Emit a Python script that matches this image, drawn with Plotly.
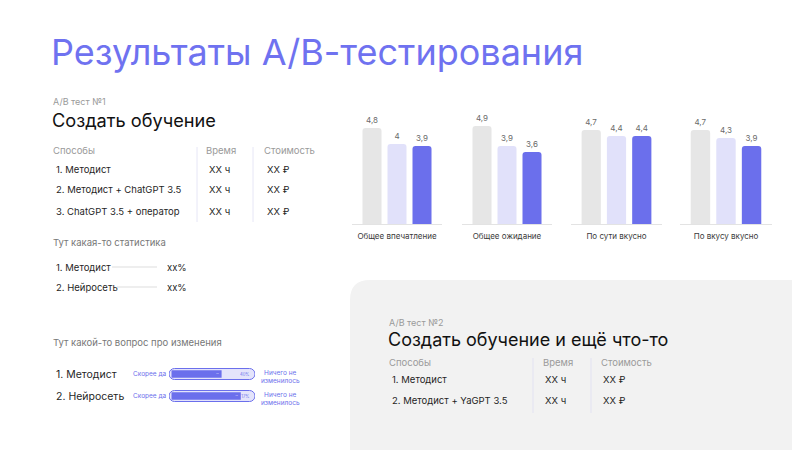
import plotly.graph_objects as go

# ---------------- data ----------------
categories = ["Общее впечатление", "Общее ожидание", "По сути вкусно", "По вкусу вкусно"]
series_names = ["Методист", "Методист + ChatGPT 3.5", "ChatGPT 3.5 + оператор"]
scores_methodist = [4.8, 4.9, 4.7, 4.7]
scores_methodist_gpt = [4, 3.9, 4.4, 4.3]
scores_gpt_operator = [3.9, 3.6, 4.4, 3.9]

change_rows = ["1. Методист", "2. Нейросеть"]
change_yes = [60, 83]
change_no = [40, 17]

W, H = 800, 450
OX, OY = 8, 8  # page body margin
FONT = "Inter, Roboto, sans-serif"
BLUE = "#6b6fec"
LIGHT = "#e1e1fa"
GRAY_BAR = "#e6e6e6"
TXT = "#1f1f1f"
MUTED = "#9a9a9a"


def px(x):
    return (x - OX) / W


def py(y):
    return 1 - (y - OY) / H


def fmt(v):
    return str(v).replace(".", ",")


fig = go.Figure()
layout = dict(
    width=W, height=H, margin=dict(l=0, r=0, t=0, b=0),
    paper_bgcolor="white", plot_bgcolor="white",
    showlegend=False, barmode="overlay",
    font=dict(family=FONT, color=TXT),
)

# --------- grouped score bars (one small axis per category) ---------
domains = [(352, 442), (462, 552), (571, 662), (680, 772)]
series = [scores_methodist, scores_methodist_gpt, scores_gpt_operator]
colors = [GRAY_BAR, LIGHT, BLUE]
for i, cat in enumerate(categories):
    sx = "" if i == 0 else str(i + 1)
    vals = [s[i] for s in series]
    fig.add_trace(go.Bar(
        x=[0, 1, 2], y=vals, xaxis="x" + sx, yaxis="y" + sx,
        width=0.76, marker=dict(color=colors, line=dict(width=0), cornerradius=3),
        text=[fmt(v) for v in vals], textposition="outside",
        textfont=dict(size=8, color="#6a6a6a", family=FONT),
        cliponaxis=False, hoverinfo="skip",
    ))
    d0, d1 = domains[i]
    layout["xaxis" + sx] = dict(
        domain=[px(d0), px(d1)], range=[-0.8, 2.8], anchor="y" + sx,
        showgrid=False, zeroline=False, showline=True, linecolor="#e3e3e3",
        linewidth=1, ticks="", tickvals=[1], ticktext=[cat], ticklabelstandoff=4,
        tickfont=dict(size=8, color="#3a3a3a", family=FONT), fixedrange=True,
    )
    layout["yaxis" + sx] = dict(
        domain=[py(224), py(104)], range=[0, 6], anchor="x" + sx,
        visible=False, fixedrange=True,
    )

# --------- progress bars (changes question) ---------
fig.add_trace(go.Bar(
    y=[0, 1], x=[103, 103], base=[-3, -3], orientation="h",
    xaxis="x5", yaxis="y5", width=0.5,
    marker=dict(color="#e4e4fb", line=dict(color=BLUE, width=1), cornerradius=6),
    text=[f"{v}%" for v in change_no], textposition="inside", insidetextanchor="end",
    textfont=dict(size=5, color=BLUE, family=FONT), hoverinfo="skip",
))
fig.add_trace(go.Bar(
    y=[0, 1], x=change_yes, orientation="h",
    xaxis="x5", yaxis="y5", width=0.33,
    marker=dict(color=BLUE, line=dict(width=0), cornerradius=4),
    text=[f"{v}%" for v in change_yes], textposition="inside", insidetextanchor="end",
    textfont=dict(size=5, color="white", family=FONT), hoverinfo="skip",
))
layout["xaxis5"] = dict(domain=[px(169), px(255)], range=[-3, 100], anchor="y5",
                        visible=False, fixedrange=True)
layout["yaxis5"] = dict(domain=[py(407), py(363)], range=[1.5, -0.5], anchor="x5",
                        visible=False, fixedrange=True)

# ---------------- text ----------------
ann = []


def A(text, x, y, size, color=TXT, anchor="left"):
    ann.append(dict(text=text, x=px(x), y=py(y), xref="paper", yref="paper",
                    xanchor=anchor, yanchor="middle", showarrow=False,
                    font=dict(size=size, color=color, family=FONT)))


A("Результаты А/В-тестирования", 49, 52, 36, "#6f72f0")

# test 1
A("А/В тест №1", 51, 101, 9, MUTED)
A("Создать обучение", 50, 120, 18.2, "#111")
A("Способы", 51, 151, 9.5, MUTED)
A("Время", 204, 151, 9.5, MUTED)
A("Стоимость", 262, 151, 9.5, MUTED)
rows1 = ["1. Методист", "2. Методист + ChatGPT 3.5", "3. ChatGPT 3.5 + оператор"]
for r, yy in zip(rows1, [169, 189, 211]):
    A(r, 54, yy, 9.5)
    A("XX ч", 207, yy, 9.5)
    A("XX ₽", 265, yy, 9.5)

A("Тут какая-то статистика", 51, 242, 9.5, "#777")
A("1. Методист", 54, 267, 9.5)
A("xx%", 165, 267, 9.5)
A("2. Нейросеть", 54, 287, 9.5)
A("xx%", 165, 287, 9.5)

A("Тут какой-то вопрос про изменения", 51, 342, 9.5, "#777")
for r, yy in zip(change_rows, [374, 396]):
    A(r, 54, yy, 10.5)
    A("Скорее да", 131, yy, 6.5, BLUE)
    A("Ничего не<br>изменилось", 259, yy + 3, 6.5, BLUE)

# test 2
A("А/В тест №2", 387, 322, 9, MUTED)
A("Создать обучение и ещё что-то", 386, 339, 18, "#111")
A("Способы", 387, 362, 9.5, MUTED)
A("Время", 541, 362, 9.5, MUTED)
A("Стоимость", 599, 362, 9.5, MUTED)
rows2 = ["1. Методист", "2. Методист + YaGPT 3.5"]
for r, yy in zip(rows2, [379, 400]):
    A(r, 390, yy, 9.5)
    A("XX ч", 543, yy, 9.5)
    A("XX ₽", 601, yy, 9.5)

layout["annotations"] = ann

# ---------------- shapes ----------------
shapes = []
r = 20
path = (f"M {px(350)},{py(470)} L {px(350)},{py(280 + r)} "
        f"Q {px(350)},{py(280)} {px(350 + r)},{py(280)} "
        f"L {px(820)},{py(280)} L {px(820)},{py(470)} Z")
shapes.append(dict(type="path", path=path, xref="paper", yref="paper",
                   fillcolor="#f2f2f2", line=dict(width=0), layer="below"))


def L(xa, ya, xb, yb, color, w=1):
    shapes.append(dict(type="line", xref="paper", yref="paper",
                       x0=px(xa), y0=py(ya), x1=px(xb), y1=py(yb),
                       line=dict(color=color, width=w), layer="below"))


L(197, 147, 197, 222, "#e6e6f6")
L(253, 147, 253, 222, "#e6e6f6")
L(533, 358, 533, 413, "#e2e2f2")
L(591, 358, 591, 413, "#e2e2f2")
L(112, 267, 157, 267, "#dddddd")
L(117, 287, 157, 287, "#dddddd")
layout["shapes"] = shapes

fig.update_layout(**layout)
fig.write_html("out.html")
